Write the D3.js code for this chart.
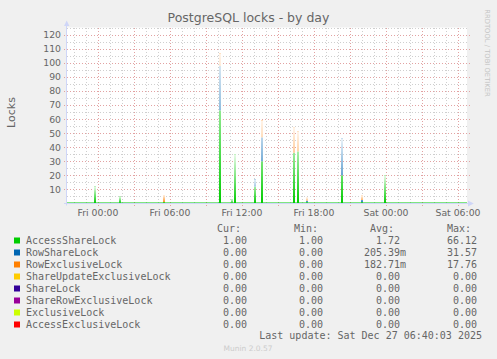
<!DOCTYPE html>
<html>
<head>
<meta charset="utf-8">
<script src="https://cdn.jsdelivr.net/npm/d3@7"></script>
<style>
    body { margin: 0; background: #f0f0f0; }
    svg { display: block; }
    text { font-family: "DejaVu Sans", sans-serif; fill: #666666; }
    .mono { font-family: "DejaVu Sans Mono", monospace; font-size: 10px; white-space: pre; }
</style>
</head>
<body>
<div id="wrapper"></div>
<script>

// lock types (legend order == stack order, bottom first)
const lockNames = ['AccessShareLock', 'RowShareLock', 'RowExclusiveLock', 'ShareUpdateExclusiveLock',
    'ShareLock', 'ShareRowExclusiveLock', 'ExclusiveLock', 'AccessExclusiveLock'];
const lockColors = ['#00cc00', '#0066b3', '#ff8000', '#ffcc00', '#330099', '#990099', '#ccff00', '#ff0000'];

// legend columns
const curValues = ['1.00', '0.00', '0.00', '0.00', '0.00', '0.00', '0.00', '0.00'];
const minValues = ['1.00', '0.00', '0.00', '0.00', '0.00', '0.00', '0.00', '0.00'];
const avgValues = ['1.72', '205.39m', '182.71m', '0.00', '0.00', '0.00', '0.00', '0.00'];
const maxValues = ['66.12', '31.57', '17.76', '0.00', '0.00', '0.00', '0.00', '0.00'];

// time window of the graph
const startTime = '2025-12-25 21:25';
const endTime = '2025-12-27 06:45';

// samples where something happened, everything else sits at the floor
const spikeTimes = ['2025-12-25 23:45', '2025-12-26 01:50', '2025-12-26 05:30', '2025-12-26 10:10',
    '2025-12-26 11:10', '2025-12-26 11:25', '2025-12-26 13:05', '2025-12-26 13:40',
    '2025-12-26 16:20', '2025-12-26 16:40', '2025-12-26 17:25', '2025-12-26 20:20',
    '2025-12-26 22:00', '2025-12-26 23:55'];
const accessShare  = [12, 5, 1, 66.12, 3, 35, 12, 30, 36, 37, 1, 20, 1, 20];
const rowShare     = [0, 0, 0, 31.57, 0, 0, 5, 17, 0, 0, 1, 26, 1.5, 0];
const rowExclusive = [0, 0, 5, 9, 0, 0, 0, 12, 17.76, 14, 2, 0, 3, 0];
const accessShareFloor = 1;

const yTicks = [10, 20, 30, 40, 50, 60, 70, 80, 90, 100, 110, 120];
const xLabels = ['Fri 00:00', 'Fri 06:00', 'Fri 12:00', 'Fri 18:00', 'Sat 00:00', 'Sat 06:00'];
const xLabelTimes = ['2025-12-26 00:00', '2025-12-26 06:00', '2025-12-26 12:00', '2025-12-26 18:00',
    '2025-12-27 00:00', '2025-12-27 06:00'];

const lastUpdate = 'Last update: Sat Dec 27 06:40:03 2025';


function drawChart() {

    const width = 497;
    const height = 359;
    const plot = { left: 67, right: 467, top: 27.5, bottom: 203.5 };

    const parse = d3.timeParse('%Y-%m-%d %H:%M');

    const svg = d3.select('#wrapper')
        .append('svg')
        .attr('width', width)
        .attr('height', height);

    svg.append('rect')
        .attr('width', width)
        .attr('height', height)
        .attr('fill', '#f0f0f0');

    const x = d3.scaleTime()
        .domain([parse(startTime), parse(endTime)])
        .range([plot.left, plot.right]);

    const y = d3.scaleLinear()
        .domain([0, 125])
        .range([plot.bottom, plot.top]);

    const px = v => Math.round(v) + 0.5;

    // canvas
    svg.append('rect')
        .attr('x', plot.left)
        .attr('y', plot.top)
        .attr('width', plot.right - plot.left)
        .attr('height', plot.bottom - plot.top)
        .attr('fill', '#ffffff');

    /// GRID ///////////////////////////////////////////
    const grid = svg.append('g')
        .attr('shape-rendering', 'crispEdges')
        .style('stroke-dasharray', '1,2')
        .style('stroke-width', 1);

    const minorY = d3.range(5, 126, 5).filter(v => v % 10 !== 0);
    grid.selectAll('.minorY')
        .data(minorY)
        .enter()
        .append('line')
        .attr('x1', plot.left)
        .attr('x2', plot.right + 2)
        .attr('y1', d => px(y(d)))
        .attr('y2', d => px(y(d)))
        .style('stroke', '#cfcfcf');

    const hours = x.ticks(d3.timeHour.every(1)).filter(d => d.getHours() % 3 !== 0);
    grid.selectAll('.minorX')
        .data(hours)
        .enter()
        .append('line')
        .attr('x1', d => px(x(d)))
        .attr('x2', d => px(x(d)))
        .attr('y1', plot.top)
        .attr('y2', plot.bottom + 1)
        .style('stroke', '#cfcfcf');

    grid.selectAll('.majorY')
        .data(yTicks)
        .enter()
        .append('line')
        .attr('x1', plot.left - 3)
        .attr('x2', plot.right + 3)
        .attr('y1', d => px(y(d)))
        .attr('y2', d => px(y(d)))
        .style('stroke', '#e2a2a2');

    const threeHours = x.ticks(d3.timeHour.every(3));
    grid.selectAll('.majorX')
        .data(threeHours)
        .enter()
        .append('line')
        .attr('x1', d => px(x(d)))
        .attr('x2', d => px(x(d)))
        .attr('y1', plot.top)
        .attr('y2', plot.bottom + 3)
        .style('stroke', '#e2a2a2');

    /// FADE for the spikes ////////////////////////////
    const defs = svg.append('defs');
    const fade = defs.append('linearGradient')
        .attr('id', 'fade')
        .attr('x1', 0).attr('y1', 1)
        .attr('x2', 0).attr('y2', 0);
    fade.append('stop').attr('offset', '0%').attr('stop-color', '#fff').attr('stop-opacity', 0);
    fade.append('stop').attr('offset', '100%').attr('stop-color', '#fff').attr('stop-opacity', 0.92);

    /// SPIKES (stacked) ///////////////////////////////
    const rows = spikeTimes.map((t, i) => ({
        time: parse(t),
        AccessShareLock: accessShare[i],
        RowShareLock: rowShare[i],
        RowExclusiveLock: rowExclusive[i]
    }));
    const keys = ['AccessShareLock', 'RowShareLock', 'RowExclusiveLock'];
    const stacked = d3.stack().keys(keys)(rows);
    const barW = 2;

    // floor of AccessShareLock over the whole window
    svg.append('rect')
        .attr('x', x.range()[0])
        .attr('y', y(accessShareFloor))
        .attr('width', x.range()[1] - x.range()[0])
        .attr('height', y(0) - y(accessShareFloor))
        .attr('fill', lockColors[0])
        .attr('opacity', 0.55);

    const layers = svg.selectAll('.layer')
        .data(stacked)
        .enter()
        .append('g')
        .attr('fill', (d, i) => lockColors[i]);

    layers.selectAll('rect')
        .data(d => d)
        .enter()
        .append('rect')
        .attr('x', d => x(d.data.time) - barW / 2)
        .attr('y', d => y(d[1]))
        .attr('width', barW)
        .attr('height', d => y(d[0]) - y(d[1]));

    const totals = stacked[stacked.length - 1];
    svg.selectAll('.fadeRect')
        .data(totals)
        .enter()
        .append('rect')
        .attr('x', d => x(d.data.time) - barW / 2)
        .attr('y', d => y(d[1]))
        .attr('width', barW)
        .attr('height', d => y(0) - y(d[1]))
        .attr('fill', 'url(#fade)');

    /// AXES ///////////////////////////////////////////
    const axisColor = '#cfd6f8';
    svg.append('line')
        .attr('x1', px(plot.left - 1)).attr('x2', px(plot.left - 1))
        .attr('y1', plot.bottom + 2).attr('y2', 24)
        .style('stroke', axisColor);
    svg.append('path')
        .attr('d', 'M64,26 L66.7,20.5 L69.4,26 Z')
        .attr('fill', axisColor);
    svg.append('line')
        .attr('x1', plot.left - 3).attr('x2', 470)
        .attr('y1', plot.bottom).attr('y2', plot.bottom)
        .style('stroke', axisColor);
    svg.append('path')
        .attr('d', 'M468,200.5 L473.8,203.5 L468,206.5 Z')
        .attr('fill', axisColor);

    // y labels
    svg.selectAll('.yLabel')
        .data(yTicks)
        .enter()
        .append('text')
        .attr('x', 61)
        .attr('y', d => y(d) + 3.5)
        .attr('text-anchor', 'end')
        .style('font-size', '9.3px')
        .text(d => d);

    // x labels
    svg.selectAll('.xLabel')
        .data(xLabels)
        .enter()
        .append('text')
        .attr('x', (d, i) => x(parse(xLabelTimes[i])))
        .attr('y', 216)
        .attr('text-anchor', 'middle')
        .style('font-size', '9.3px')
        .text(d => d);

    /// TITLES /////////////////////////////////////////
    svg.append('text')
        .attr('x', 248.5)
        .attr('y', 22)
        .attr('text-anchor', 'middle')
        .style('font-size', '12.5px')
        .text('PostgreSQL locks - by day');

    svg.append('text')
        .attr('transform', 'translate(15,112.5) rotate(-90)')
        .attr('text-anchor', 'middle')
        .style('font-size', '11px')
        .text('Locks');

    svg.append('text')
        .attr('transform', 'translate(484.5,53) rotate(90)')
        .attr('text-anchor', 'middle')
        .style('font-size', '6.8px')
        .style('fill', '#c4c4c4')
        .text('RRDTOOL / TOBI OETIKER');

    /// LEGEND /////////////////////////////////////////
    const rowY = i => 243.5 + i * 12;

    const heads = [['Cur:', 217], ['Min:', 294], ['Avg:', 370], ['Max:', 447]];
    svg.selectAll('.head')
        .data(heads)
        .enter()
        .append('text')
        .attr('class', 'mono')
        .attr('x', d => d[1])
        .attr('y', 231.5)
        .text(d => d[0]);

    svg.selectAll('.swatch')
        .data(lockNames)
        .enter()
        .append('rect')
        .attr('x', 14)
        .attr('y', (d, i) => rowY(i) - 6)
        .attr('width', 6)
        .attr('height', 6)
        .attr('fill', (d, i) => lockColors[i]);

    svg.selectAll('.name')
        .data(lockNames)
        .enter()
        .append('text')
        .attr('class', 'mono')
        .attr('x', 26)
        .attr('y', (d, i) => rowY(i))
        .text(d => d);

    const col = (values, right) => svg.selectAll(null)
        .data(values)
        .enter()
        .append('text')
        .attr('class', 'mono')
        .attr('x', right)
        .attr('y', (d, i) => rowY(i))
        .attr('text-anchor', 'end')
        .text(d => d);

    col(curValues, 247);
    col(minValues, 323);
    col(maxValues, 477);

    // avg: number right-aligned, SI prefix hangs after it
    svg.selectAll('.avg')
        .data(avgValues)
        .enter()
        .append('text')
        .attr('class', 'mono')
        .attr('x', 400)
        .attr('y', (d, i) => rowY(i))
        .attr('text-anchor', 'end')
        .text(d => d.replace(/[a-zA-Z]$/, ''));
    svg.selectAll('.avgUnit')
        .data(avgValues.filter(d => /[a-zA-Z]$/.test(d)))
        .enter()
        .append('text')
        .attr('class', 'mono')
        .attr('x', 400)
        .attr('y', (d, i) => rowY(avgValues.indexOf(d)))
        .text(d => d.slice(-1));

    svg.append('text')
        .attr('class', 'mono')
        .attr('x', 482)
        .attr('y', 339)
        .attr('text-anchor', 'end')
        .text(lastUpdate);

    svg.append('text')
        .attr('x', 248)
        .attr('y', 351)
        .attr('text-anchor', 'middle')
        .style('font-size', '7.5px')
        .style('fill', '#cccccc')
        .text('Munin 2.0.57');
}

drawChart();
</script>
</body>
</html>
